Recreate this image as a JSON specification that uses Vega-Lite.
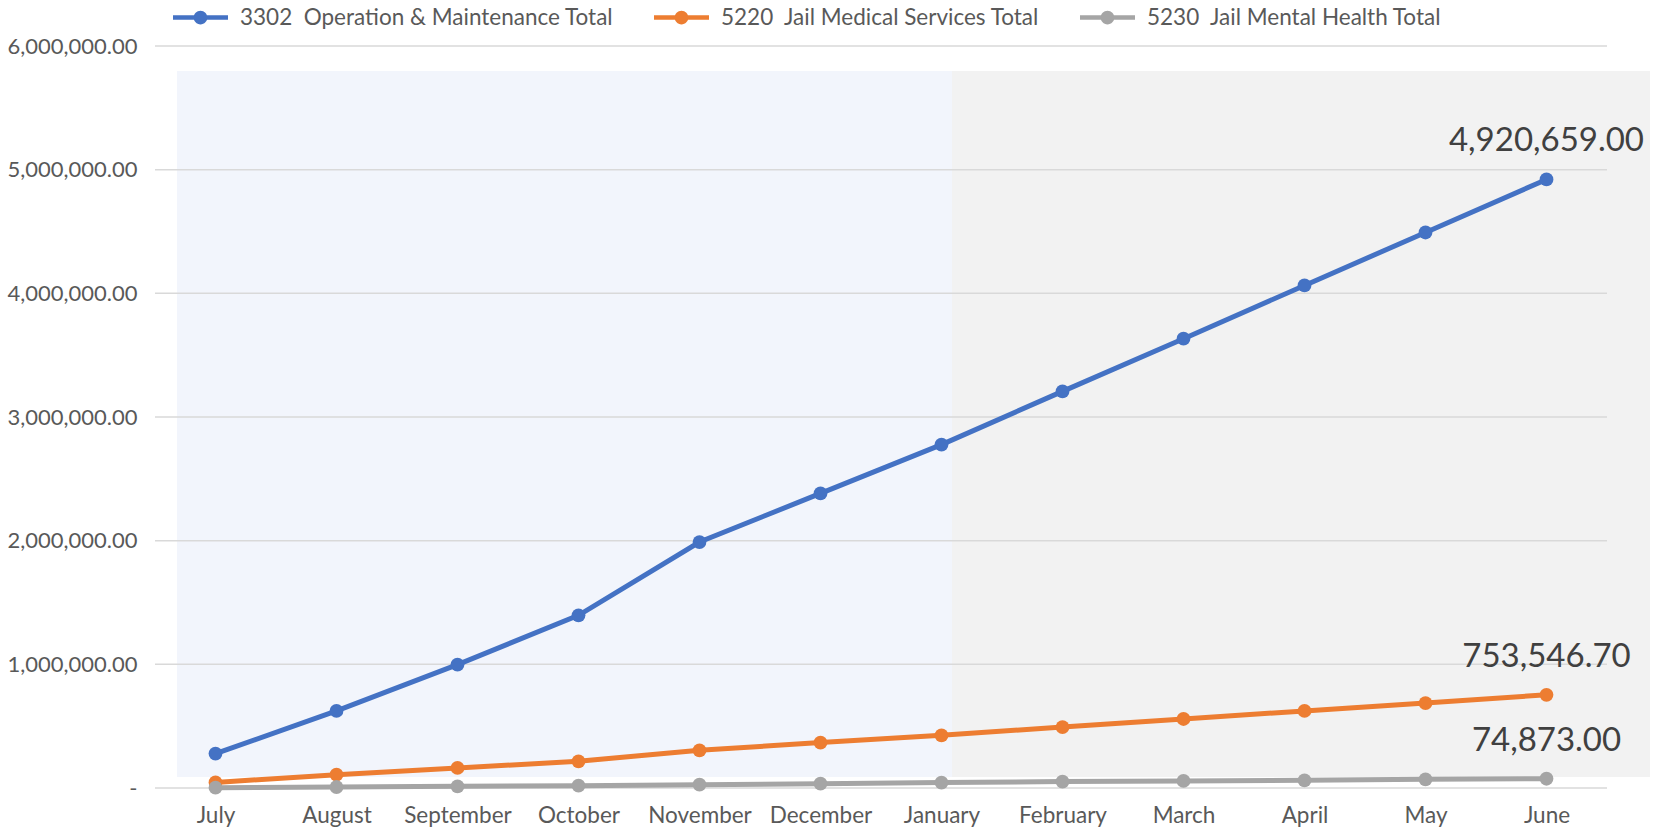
{
  "$schema": "https://vega.github.io/schema/vega-lite/v6.json",
  "width": 1452,
  "height": 742,
  "autosize": {"type": "none"},
  "padding": {"left": 155, "top": 46, "right": 56, "bottom": 43},
  "background": "white",
  "config": {
    "font": "Lato",
    "view": {"stroke": null}
  },
  "datasets": {
    "shade": [
      {"period": "Actual", "start": 0.182, "end": 6.587, "low": 89000, "high": 5798000},
      {"period": "Projected", "start": 6.587, "end": 12.355, "low": 89000, "high": 5798000}
    ],
    "grid": [
      {"tick": 0}, {"tick": 1000000}, {"tick": 2000000}, {"tick": 3000000},
      {"tick": 4000000}, {"tick": 5000000}, {"tick": 6000000}
    ],
    "series": [
      {"month": "July", "series": "3302\u00a0 Operation & Maintenance Total", "value": 278000},
      {"month": "August", "series": "3302\u00a0 Operation & Maintenance Total", "value": 623000},
      {"month": "September", "series": "3302\u00a0 Operation & Maintenance Total", "value": 998000},
      {"month": "October", "series": "3302\u00a0 Operation & Maintenance Total", "value": 1396000},
      {"month": "November", "series": "3302\u00a0 Operation & Maintenance Total", "value": 1989000},
      {"month": "December", "series": "3302\u00a0 Operation & Maintenance Total", "value": 2382000},
      {"month": "January", "series": "3302\u00a0 Operation & Maintenance Total", "value": 2777000},
      {"month": "February", "series": "3302\u00a0 Operation & Maintenance Total", "value": 3207000},
      {"month": "March", "series": "3302\u00a0 Operation & Maintenance Total", "value": 3633000},
      {"month": "April", "series": "3302\u00a0 Operation & Maintenance Total", "value": 4064000},
      {"month": "May", "series": "3302\u00a0 Operation & Maintenance Total", "value": 4492000},
      {"month": "June", "series": "3302\u00a0 Operation & Maintenance Total", "value": 4920659},
      {"month": "July", "series": "5220\u00a0 Jail Medical Services Total", "value": 45000},
      {"month": "August", "series": "5220\u00a0 Jail Medical Services Total", "value": 108000},
      {"month": "September", "series": "5220\u00a0 Jail Medical Services Total", "value": 162000},
      {"month": "October", "series": "5220\u00a0 Jail Medical Services Total", "value": 216000},
      {"month": "November", "series": "5220\u00a0 Jail Medical Services Total", "value": 305000},
      {"month": "December", "series": "5220\u00a0 Jail Medical Services Total", "value": 367000},
      {"month": "January", "series": "5220\u00a0 Jail Medical Services Total", "value": 426000},
      {"month": "February", "series": "5220\u00a0 Jail Medical Services Total", "value": 493000},
      {"month": "March", "series": "5220\u00a0 Jail Medical Services Total", "value": 558000},
      {"month": "April", "series": "5220\u00a0 Jail Medical Services Total", "value": 623000},
      {"month": "May", "series": "5220\u00a0 Jail Medical Services Total", "value": 687000},
      {"month": "June", "series": "5220\u00a0 Jail Medical Services Total", "value": 753546.7},
      {"month": "July", "series": "5230\u00a0 Jail Mental Health Total", "value": 3000},
      {"month": "August", "series": "5230\u00a0 Jail Mental Health Total", "value": 8000},
      {"month": "September", "series": "5230\u00a0 Jail Mental Health Total", "value": 14000},
      {"month": "October", "series": "5230\u00a0 Jail Mental Health Total", "value": 19000},
      {"month": "November", "series": "5230\u00a0 Jail Mental Health Total", "value": 27000},
      {"month": "December", "series": "5230\u00a0 Jail Mental Health Total", "value": 35000},
      {"month": "January", "series": "5230\u00a0 Jail Mental Health Total", "value": 44000},
      {"month": "February", "series": "5230\u00a0 Jail Mental Health Total", "value": 52000},
      {"month": "March", "series": "5230\u00a0 Jail Mental Health Total", "value": 57000},
      {"month": "April", "series": "5230\u00a0 Jail Mental Health Total", "value": 62000},
      {"month": "May", "series": "5230\u00a0 Jail Mental Health Total", "value": 70000},
      {"month": "June", "series": "5230\u00a0 Jail Mental Health Total", "value": 74873}
    ]
  },
  "resolve": {"scale": {"x": "independent", "color": "independent"}},
  "layer": [
    {
      "data": {"name": "shade"},
      "mark": {"type": "rect"},
      "encoding": {
        "x": {"field": "start", "type": "quantitative", "scale": {"domain": [0, 12], "nice": false, "zero": false}, "axis": null},
        "x2": {"field": "end"},
        "y": {"field": "low", "type": "quantitative", "scale": {"domain": [0, 6000000], "nice": false},
          "axis": {"title": null, "values": [0, 1000000, 2000000, 3000000, 4000000, 5000000, 6000000], "grid": false, "ticks": false, "domain": false, "labelFontSize": 22, "labelColor": "#595959", "labelPadding": 18, "labelFont": "Lato", "labelExpr": "datum.value == 0 ? '-' : format(datum.value, ',.2f')"}},
        "y2": {"field": "high"},
        "color": {"field": "period", "type": "nominal", "scale": {"domain": ["Actual", "Projected"], "range": ["#F2F5FC", "#F2F2F2"]}, "legend": null}
      }
    },
    {
      "data": {"name": "grid"},
      "mark": {"type": "rule", "color": "#D9D9D9", "strokeWidth": 1.5},
      "encoding": {
        "y": {"field": "tick", "type": "quantitative", "scale": {"domain": [0, 6000000], "nice": false},
          "axis": {"title": null, "values": [0, 1000000, 2000000, 3000000, 4000000, 5000000, 6000000], "grid": false, "ticks": false, "domain": false, "labelFontSize": 22, "labelColor": "#595959", "labelPadding": 18, "labelFont": "Lato", "labelExpr": "datum.value == 0 ? '-' : format(datum.value, ',.2f')"}}
      }
    },
    {
      "data": {"name": "series"},
      "mark": {"type": "line", "strokeWidth": 5, "point": {"filled": true, "size": 190, "opacity": 1}},
      "encoding": {
        "x": {
          "field": "month", "type": "nominal",
          "scale": {"type": "point", "padding": 0.5, "domain": ["July", "August", "September", "October", "November", "December", "January", "February", "March", "April", "May", "June"]},
          "sort": null,
          "axis": {"title": null, "labelAngle": 0, "ticks": false, "domain": false, "grid": false, "labelFontSize": 22.5, "labelColor": "#595959", "labelPadding": 16, "labelFont": "Lato"}
        },
        "y": {
          "field": "value", "type": "quantitative",
          "scale": {"domain": [0, 6000000], "nice": false},
          "axis": {"title": null, "values": [0, 1000000, 2000000, 3000000, 4000000, 5000000, 6000000], "grid": false, "ticks": false, "domain": false, "labelFontSize": 22, "labelColor": "#595959", "labelPadding": 18, "labelFont": "Lato", "labelExpr": "datum.value == 0 ? '-' : format(datum.value, ',.2f')"}
        },
        "color": {
          "field": "series", "type": "nominal",
          "scale": {
            "domain": ["3302\u00a0 Operation & Maintenance Total", "5220\u00a0 Jail Medical Services Total", "5230\u00a0 Jail Mental Health Total"],
            "range": ["#4472C4", "#ED7D31", "#A5A5A5"]
          },
          "legend": {
            "title": null, "orient": "none", "direction": "horizontal", "legendX": 18, "legendY": -56,
            "symbolType": "M-1,-0.085L1,-0.085L1,0.085L-1,0.085Z M0.25,0A0.25,0.25,0,1,1,-0.25,0A0.25,0.25,0,1,1,0.25,0Z",
            "symbolSize": 3025, "symbolStrokeWidth": 0, "symbolOpacity": 1,
            "labelFontSize": 22.5, "labelColor": "#595959", "labelFont": "Lato", "labelOffset": 12, "columnPadding": 40, "labelLimit": 600,
            "encode": {"symbols": {"update": {"fill": {"scale": "color", "field": "value"}, "stroke": {"value": "transparent"}}}}
          }
        }
      }
    },
    {
      "data": {"name": "series"},
      "transform": [{"filter": "datum.month == 'June'"}],
      "mark": {"type": "text", "fontSize": 33, "color": "#404040", "align": "center", "baseline": "middle", "dy": -38, "font": "Lato"},
      "encoding": {
        "x": {
          "field": "month", "type": "nominal",
          "scale": {"type": "point", "padding": 0.5, "domain": ["July", "August", "September", "October", "November", "December", "January", "February", "March", "April", "May", "June"]},
          "axis": null
        },
        "y": {"field": "value", "type": "quantitative", "scale": {"domain": [0, 6000000], "nice": false},
          "axis": {"title": null, "values": [0, 1000000, 2000000, 3000000, 4000000, 5000000, 6000000], "grid": false, "ticks": false, "domain": false, "labelFontSize": 22, "labelColor": "#595959", "labelPadding": 18, "labelFont": "Lato", "labelExpr": "datum.value == 0 ? '-' : format(datum.value, ',.2f')"}},
        "text": {"field": "value", "type": "quantitative", "format": ",.2f"}
      }
    }
  ]
}
